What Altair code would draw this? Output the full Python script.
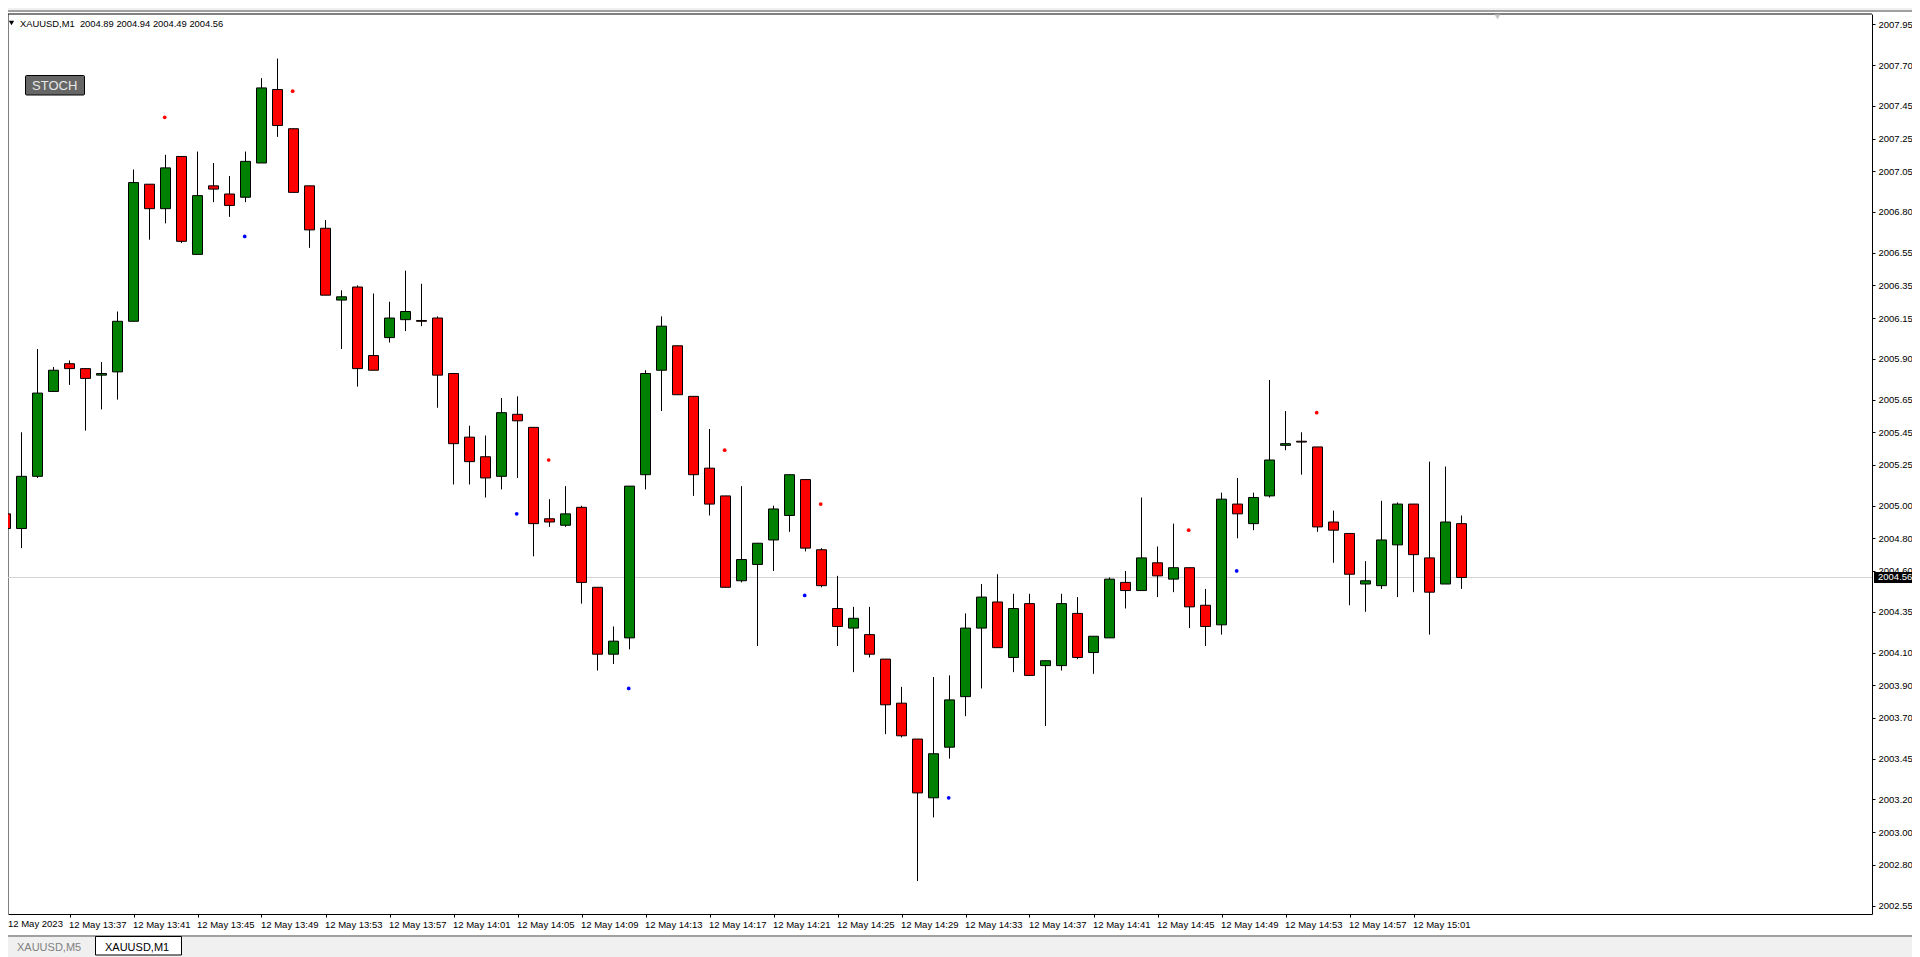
import altair as alt
import pandas as pd

opens = [2004.95,2004.86,2005.18,2005.70,2005.87,2005.84,2005.80,2005.82,2006.13,2006.97,2006.82,2007.14,2006.54,2006.96,2006.91,2006.89,
2007.10,2007.55,2007.31,2006.96,2006.70,2006.26,2006.34,2005.92,2006.03,2006.14,2006.135,2006.15,2005.81,2005.42,2005.30,2005.18,
2005.56,2005.48,2004.92,2004.88,2004.99,2004.50,2004.09,2004.19,2005.19,2005.83,2005.98,2005.67,2005.23,2005.06,2004.54,2004.64,
2004.79,2004.94,2005.16,2004.73,2004.37,2004.25,2004.21,2004.06,2003.79,2003.57,2003.21,2003.52,2003.83,2004.25,2004.41,2004.07,
2004.40,2004.02,2004.02,2004.34,2004.10,2004.19,2004.53,2004.48,2004.65,2004.55,2004.62,2004.39,2004.27,2005.01,2004.89,2005.06,
2005.37,2005.395,2005.36,2004.90,2004.83,2004.52,2004.51,2004.76,2005.01,2004.68,2004.52,2004.89]
highs = [2005.00,2005.45,2005.96,2005.85,2005.89,2005.84,2005.88,2006.19,2007.06,2006.97,2007.15,2007.14,2007.17,2007.10,2007.02,2007.17,
2007.62,2007.74,2007.31,2006.96,2006.75,2006.32,2006.35,2006.30,2006.25,2006.44,2006.36,2006.16,2005.81,2005.49,2005.43,2005.66,
2005.67,2005.48,2005.04,2005.12,2005.00,2004.50,2004.26,2005.12,2005.83,2006.16,2005.98,2005.67,2005.47,2005.06,2005.12,2004.77,
2005.00,2005.19,2005.16,2004.74,2004.57,2004.38,2004.38,2004.06,2003.89,2003.57,2003.95,2003.96,2004.34,2004.52,2004.58,2004.46,
2004.46,2004.05,2004.46,2004.44,2004.20,2004.56,2004.60,2005.05,2004.75,2004.89,2004.62,2004.49,2005.08,2005.17,2005.08,2005.77,
2005.58,2005.45,2005.36,2004.97,2004.83,2004.66,2005.03,2005.02,2005.01,2005.27,2005.24,2004.94]
lows = [2004.56,2004.74,2005.17,2005.70,2005.74,2005.46,2005.59,2005.65,2006.13,2006.63,2006.73,2006.61,2006.54,2006.86,2006.77,2006.86,
2007.10,2007.26,2006.92,2006.58,2006.29,2005.96,2005.73,2005.83,2006.00,2006.07,2006.10,2005.60,2005.13,2005.13,2005.05,2005.10,
2005.17,2004.69,2004.87,2004.87,2004.40,2003.99,2004.03,2004.12,2005.10,2005.58,2005.68,2005.06,2004.94,2004.50,2004.53,2004.14,
2004.60,2004.84,2004.72,2004.50,2004.14,2003.98,2004.07,2003.60,2003.58,2002.70,2003.09,2003.45,2003.71,2003.88,2004.13,2003.98,
2003.96,2003.65,2003.99,2004.06,2003.97,2004.19,2004.37,2004.48,2004.44,2004.47,2004.25,2004.14,2004.21,2004.80,2004.85,2005.05,
2005.34,2005.19,2004.84,2004.65,2004.39,2004.35,2004.49,2004.44,2004.47,2004.21,2004.52,2004.49]
closes = [2004.86,2005.18,2005.69,2005.83,2005.84,2005.78,2005.81,2006.13,2006.98,2006.82,2007.07,2006.62,2006.90,2006.94,2006.84,2007.11,
2007.56,2007.33,2006.92,2006.69,2006.29,2006.28,2005.84,2005.83,2006.15,2006.19,2006.13,2005.80,2005.38,2005.27,2005.17,2005.57,
2005.52,2004.89,2004.90,2004.95,2004.53,2004.09,2004.17,2005.12,2005.81,2006.10,2005.68,2005.19,2005.01,2004.50,2004.67,2004.77,
2004.98,2005.19,2004.74,2004.51,2004.26,2004.31,2004.09,2003.78,2003.59,2003.24,2003.48,2003.81,2004.25,2004.44,2004.13,2004.37,
2003.96,2004.05,2004.40,2004.07,2004.20,2004.55,2004.48,2004.68,2004.57,2004.62,2004.38,2004.26,2005.04,2004.95,2005.05,2005.28,
2005.38,2005.39,2004.87,2004.85,2004.58,2004.54,2004.79,2005.01,2004.70,2004.47,2004.90,2004.56]

red_dot_bars = [9.95, 17.95, 33.95, 44.95, 50.95, 73.95, 81.95]
red_dot_prices = [2007.38, 2007.54, 2005.28, 2005.34, 2005.01, 2004.85, 2005.57]
blue_dot_bars = [14.95, 31.95, 38.95, 49.95, 58.95, 76.95]
blue_dot_prices = [2006.65, 2004.95, 2003.88, 2004.45, 2003.21, 2004.60]

price_ticks = [2007.95,2007.70,2007.45,2007.25,2007.05,2006.80,2006.55,2006.35,2006.15,2005.90,2005.65,2005.45,2005.25,
               2005.00,2004.80,2004.60,2004.35,2004.10,2003.90,2003.70,2003.45,2003.20,2003.00,2002.80,2002.55]
time_labels = ["12 May 2023","12 May 13:37","12 May 13:41","12 May 13:45","12 May 13:49","12 May 13:53","12 May 13:57",
               "12 May 14:01","12 May 14:05","12 May 14:09","12 May 14:13","12 May 14:17","12 May 14:21","12 May 14:25",
               "12 May 14:29","12 May 14:33","12 May 14:37","12 May 14:41","12 May 14:45","12 May 14:49","12 May 14:53",
               "12 May 14:57","12 May 15:01"]
current_price = 2004.56
header_text = "XAUUSD,M1\u00a0\u00a02004.89 2004.94 2004.49 2004.56"
button_text = "STOCH"
tab_texts = ["XAUUSD,M5", "XAUUSD,M1"]

W, H = 1864, 900
PR = 40
FONT = "Liberation Sans"

candles = pd.DataFrame({"i": range(len(opens)), "o": opens, "h": highs, "l": lows, "c": closes})
candles["dir"] = ["up" if c >= o else "down" for o, c in zip(opens, closes)]
dots = pd.DataFrame({"i": red_dot_bars + blue_dot_bars, "p": red_dot_prices + blue_dot_prices,
                     "k": ["r"] * len(red_dot_bars) + ["b"] * len(blue_dot_bars)})
cur = pd.DataFrame({"p": [current_price], "t": [f"{current_price:.2f}"]})
one = pd.DataFrame({"a": [0]})

xs = alt.Scale(domain=[0.15625, 116.65625], nice=False, zero=False, padding=0)
ys = alt.Scale(domain=[2002.498, 2008.013], nice=False, zero=False, padding=0)

tick_vals = [4 * k for k in range(1, len(time_labels))]
label_expr = "[" + ",".join(f"'{t}'" for t in time_labels) + "][datum.value/4]"

x_axis = alt.Axis(values=tick_vals, labelExpr=label_expr, title=None, grid=False, domainColor="black",
                  tickColor="black", tickSize=3, labelAlign="left", labelFont=FONT, labelFontSize=9.5,
                  labelColor="black", labelPadding=2, labelOverlap=False, labelOffset=-1, labelBound=False, labelFlush=False)
y_axis = alt.Axis(values=price_ticks, format=".2f", orient="right", title=None, grid=False, domainColor="black",
                  tickColor="black", tickSize=3, labelFont=FONT, labelFontSize=9.5, labelColor="black",
                  labelPadding=3, labelOverlap=False, labelBound=False, labelFlush=False)

def X(f):
    return alt.X(f, scale=xs, axis=x_axis)

def Y(f):
    return alt.Y(f, scale=ys, axis=y_axis)

frame_left = alt.Chart(one).mark_rule(color="black", strokeWidth=1).encode(x=alt.value(0), y=alt.value(0), y2=alt.value(H))
price_line = alt.Chart(cur).mark_rule(color="#d3d3d3", strokeWidth=1).encode(
    x=alt.value(0), x2=alt.value(W), y=Y("p:Q"))
wicks = alt.Chart(candles).mark_rule(color="black", strokeWidth=1).encode(
    x=X("i:Q"), y=Y("h:Q"), y2="l:Q")
bodies = alt.Chart(candles).mark_bar(width=10, stroke="black", strokeWidth=1).encode(
    x=X("i:Q"), y=Y("o:Q"), y2="c:Q",
    color=alt.Color("dir:N", scale=alt.Scale(domain=["up", "down"], range=["#008000", "#ff0000"]), legend=None))
points = alt.Chart(dots).mark_circle(size=14, opacity=1).encode(
    x=X("i:Q"), y=Y("p:Q"),
    fill=alt.Fill("k:N", scale=alt.Scale(domain=["r", "b"], range=["#ff0000", "#0000ff"]), legend=None))

def box(x0, x1, y0, y1, fill, **kw):
    return alt.Chart(one).mark_rect(fill=fill, **kw).encode(
        x=alt.value(x0), x2=alt.value(x1), y=alt.value(y0), y2=alt.value(y1))

def label(txt, x, y, size, color="black", **kw):
    return alt.Chart(one).mark_text(text=txt, font=FONT, fontSize=size, color=color, align="left", baseline="alphabetic", **kw).encode(
        x=alt.value(x), y=alt.value(y))

frame_top = alt.Chart(one).mark_rule(color="black", strokeWidth=1).encode(x=alt.value(0), x2=alt.value(W), y=alt.value(0))
toolbar = box(-8, W + PR, -6, -4, "#f0f0f0")
toolbar_line = box(-8, W + PR, -4, -2, "#a0a0a0")
tabs_bg = box(-8, W + PR, 923, 943, "#f0f0f0")
tabs_line = box(-8, W + PR, 921, 923, "#a0a0a0")
tab_active = box(87.5, 173.5, 922.5, 941, "white", stroke="black", strokeWidth=1)
shift_mark = alt.Chart(one).mark_point(shape="triangle-down", filled=True, size=36, color="#c8c8c8", opacity=1).encode(
    x=alt.value(1489.5), y=alt.value(3))

price_tag = alt.Chart(cur).mark_rect(fill="black", height=11).encode(
    x=alt.value(W + 2), x2=alt.value(W + PR), y=Y("p:Q"))
price_txt = alt.Chart(cur).mark_text(font=FONT, fontSize=9.5, color="white", align="left", baseline="middle").encode(
    x=alt.value(W + 6), y=Y("p:Q"), text="t:N")

btn = box(17.5, 76.5, 61.5, 81, "#666666", stroke="black", strokeWidth=1, cornerRadius=1)
btn_txt = label(button_text, 24, 76, 13, "#e8e8e8")
hdr = label(header_text, 12, 12.5, 9.4)
hdr_tri = alt.Chart(one).mark_point(shape="triangle-down", filled=True, size=28, color="black", opacity=1).encode(
    x=alt.value(3.5), y=alt.value(9))
first_lab = label(time_labels[0], 0, 912.7, 9.5)
tab1 = label(tab_texts[0], 9, 936.5, 11, "#808080")
tab2 = label(tab_texts[1], 97, 936.5, 11)

chart = alt.layer(frame_left, price_line, wicks, bodies, points, frame_top, toolbar, toolbar_line, tabs_bg, tabs_line, tab_active, shift_mark,
                  price_tag, price_txt, btn, btn_txt, hdr, hdr_tri, first_lab, tab1, tab2).properties(
    width=W, height=H, padding={"left": 0, "top": 6, "right": PR, "bottom": 43},
    autosize=alt.AutoSizeParams(type="none"),
).configure_view(stroke=None)

chart.save("out.html", embed_options={"renderer": "svg", "actions": False})
